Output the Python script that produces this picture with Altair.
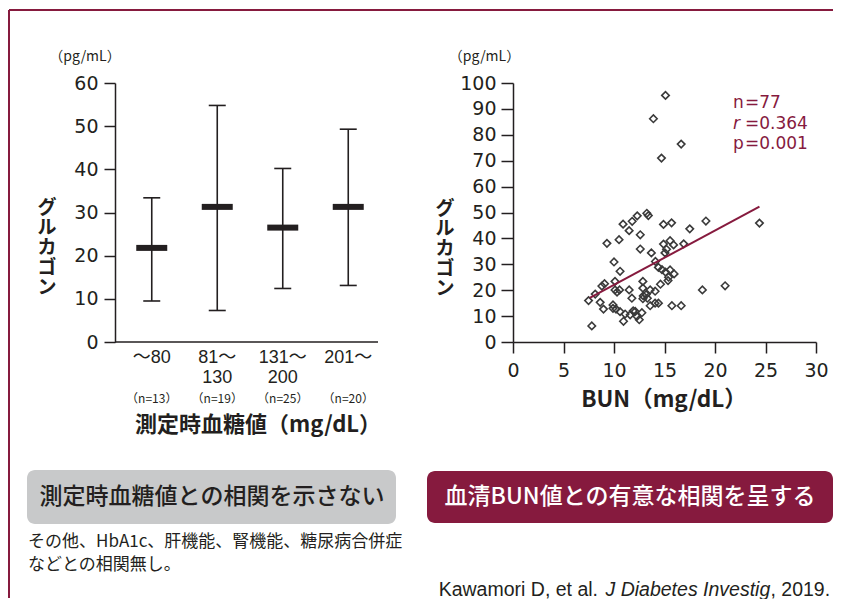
import altair as alt
import pandas as pd

# ---------------- data ----------------
groups = ["〜80", "81〜|130", "131〜|200", "201〜"]
group_n = ["（n=13）", "（n=19）", "（n=25）", "（n=20）"]
glucagon_mean = [21.8, 31.3, 26.5, 31.3]
glucagon_low = [9.5, 7.3, 12.4, 13.1]
glucagon_high = [33.4, 54.8, 40.2, 49.3]
left_y_ticks = [0, 10, 20, 30, 40, 50, 60]

bun = [15.1, 13.9, 16.65, 14.7,
       24.4, 19.1, 17.5, 21.0, 18.75, 16.65, 15.73,
       15.7, 14.9, 13.25, 13.4, 12.3, 11.8, 10.9, 11.5, 12.6,
       9.3, 10.5, 12.6, 13.7, 14.9, 15.55, 15.9, 16.9, 15.2, 15.05,
       10.0, 14.1, 14.4, 10.6, 14.75, 15.55, 15.1, 15.95,
       15.35, 14.6, 12.86, 10.1, 9.06, 8.8, 10.1, 10.55, 11.5, 12.86, 13.58,
       13.18, 13.3, 12.86, 11.77, 8.14, 7.48, 10.3, 14.07, 14.4, 8.63,
       8.96, 9.9, 10.2, 10.6, 11.1, 10.94, 11.6, 12.1, 12.27, 12.5, 12.76, 13.58, 7.8,
       15.4, 12.9, 14.07, 11.9, 9.9]
glucagon = [95.2, 86.2, 76.4, 71.0,
            45.9, 46.7, 43.7, 21.7, 20.1, 14.0, 14.0,
            46.0, 45.4, 49.7, 48.8, 48.7, 46.6, 45.5, 43.0, 41.4,
            38.1, 39.5, 35.9, 34.4, 37.8, 39.1, 37.5, 37.9, 35.8, 34.4,
            30.9, 31.1, 28.8, 27.3, 27.9, 27.8, 27.0, 26.3,
            23.7, 22.3, 23.4, 23.4, 22.5, 21.6, 20.1, 20.1, 20.1, 20.8, 20.1,
            18.3, 16.9, 16.7, 16.9, 18.5, 16.0, 19.3, 15.0, 15.0, 15.3,
            12.7, 14.3, 12.7, 11.7, 10.8, 8.0, 10.5, 11.8, 9.9, 8.6, 11.3, 14.0, 6.2,
            25.0, 17.8, 19.6, 12.0, 13.0]
fit_x = [7.6, 24.4]
fit_y = [17.0, 52.3]
right_x_ticks = [0, 5, 10, 15, 20, 25, 30]
right_y_ticks = [0, 10, 20, 30, 40, 50, 60, 70, 80, 90, 100]

stats_keys = ["n", "r", "p"]
stats_vals = ["=77", "=0.364", "=0.001"]

# ---------------- style ----------------
INK = "#231f20"
MAROON = "#861a3e"
GRAY_BOX = "#c8c9ca"
NUM = "DejaVu Sans"
JP = "Noto Sans CJK JP"
LAT = "Liberation Sans, Noto Sans CJK JP"

W1, W2, H = 262, 303, 259
OX1, OY = 119, 83      # left plot origin on the page
OX2 = 513              # right plot origin on the page
RIGHT_EDGE = 833       # keep the drawing inside the browser window
BOTTOM_EDGE = 598

one = pd.DataFrame({"k": [0]})


def txt(x, y, text, size, font=JP, color=INK, align="center", weight="normal",
        style="normal", baseline="middle", **kw):
    return alt.Chart(one).mark_text(text=text, font=font, fontSize=size, color=color,
                                    align=align, fontWeight=weight, fontStyle=style,
                                    baseline=baseline, **kw).encode(
        x=alt.value(x), y=alt.value(y))


# ---------------- left panel ----------------
left_df = pd.DataFrame({"group": groups, "n": group_n, "mean": glucagon_mean,
                        "low": glucagon_low, "high": glucagon_high})

xcat = alt.X("group:N", sort=groups,
             scale=alt.Scale(domain=groups, paddingInner=0, paddingOuter=0),
             axis=alt.Axis(title=None, labelExpr="split(datum.label, '|')", domain=False,
                           ticks=False, labelAngle=0, labelFont=LAT, labelFontSize=18,
                           labelLineHeight=20, labelPadding=6, labelColor=INK,
                           labelOverlap=False))
yaxis_l = alt.Axis(values=left_y_ticks, title=None, offset=4, tickSize=11, labelFont=NUM,
                   labelFontSize=19, labelPadding=6, labelColor=INK, grid=False,
                   domainColor=INK, tickColor=INK, domainWidth=1.5, tickWidth=1.5,
                   labelOverlap=False)
yscale_l = alt.Scale(domain=[0, 60], nice=False)

base_l = alt.Chart(left_df)
bars = base_l.mark_rule(color=INK, strokeWidth=1.6).encode(
    x=xcat, y=alt.Y("low:Q", scale=yscale_l, axis=yaxis_l), y2="high:Q")
cap_lo = base_l.mark_tick(color=INK, thickness=1.6, size=17, opacity=1).encode(
    x=xcat, y=alt.Y("low:Q", scale=yscale_l, axis=yaxis_l))
cap_hi = base_l.mark_tick(color=INK, thickness=1.6, size=17, opacity=1).encode(
    x=xcat, y=alt.Y("high:Q", scale=yscale_l, axis=yaxis_l))
means = base_l.mark_tick(color=INK, thickness=6, size=31, opacity=1).encode(
    x=xcat, y=alt.Y("mean:Q", scale=yscale_l, axis=yaxis_l))
nlab = base_l.mark_text(font=JP, fontSize=12, color=INK, baseline="middle").encode(
    x=xcat, y=alt.value(399 - OY), text="n:N")

xline_l = alt.Chart(one).mark_rule(color=INK, strokeWidth=1.5).encode(
    x=alt.value(115 - OX1), x2=alt.value(378 - OX1), y=alt.value(H))

frame_v = alt.Chart(one).mark_rule(color=MAROON, strokeWidth=2).encode(
    x=alt.value(9 - OX1), y=alt.value(10 - OY), y2=alt.value(BOTTOM_EDGE - OY))
frame_h = alt.Chart(one).mark_rule(color=MAROON, strokeWidth=2).encode(
    x=alt.value(9 - OX1), x2=alt.value(RIGHT_EDGE - OX1), y=alt.value(10 - OY))

gray_box = alt.Chart(one).mark_rect(color=GRAY_BOX, cornerRadius=8).encode(
    x=alt.value(27 - OX1), x2=alt.value(396 - OX1), y=alt.value(470 - OY), y2=alt.value(524 - OY))

left = alt.layer(
    frame_v, frame_h, gray_box,
    bars, cap_lo, cap_hi, means, nlab, xline_l,
    txt(85 - OX1, 57 - OY, "（pg/mL）", 14),
    txt(47 - OX1, 207.5 - OY, ["グ", "ル", "カ", "ゴ", "ン"], 19, weight="bold", lineHeight=20),
    txt(258 - OX1, 425 - OY, "測定時血糖値（mg/dL）", 22, weight="bold"),
    txt(212 - OX1, 497 - OY, "測定時血糖値との相関を示さない", 23, weight=500),
    txt(28 - OX1, 541.7 - OY, "その他、HbA1c、肝機能、腎機能、糖尿病合併症", 17, align="left"),
    txt(28 - OX1, 565 - OY, "などとの相関無し。", 17, align="left"),
).properties(width=W1, height=H)

# ---------------- right panel ----------------
sc_df = pd.DataFrame({"bun": bun, "glu": glucagon})
fit_df = pd.DataFrame({"bun": fit_x, "glu": fit_y})

xscale_r = alt.Scale(domain=[0, 30], nice=False)
yscale_r = alt.Scale(domain=[0, 100], nice=False)
xaxis_r = alt.Axis(values=right_x_ticks, title=None, tickSize=11, labelFont=NUM,
                   labelFontSize=19, labelPadding=8, labelColor=INK, grid=False,
                   domainColor=INK, tickColor=INK, domainWidth=1.5, tickWidth=1.5,
                   labelFlush=False, labelOverlap=False)
yaxis_r = alt.Axis(values=right_y_ticks, title=None, tickSize=12, labelFont=NUM,
                   labelFontSize=19, labelPadding=5, labelColor=INK, grid=False,
                   domainColor=INK, tickColor=INK, domainWidth=1.5, tickWidth=1.5,
                   labelFlush=False, labelOverlap=False)

pts = alt.Chart(sc_df).mark_point(shape="diamond", filled=False, size=56,
                                  stroke="#3a3a3a", strokeWidth=1.6, opacity=1).encode(
    x=alt.X("bun:Q", scale=xscale_r, axis=xaxis_r),
    y=alt.Y("glu:Q", scale=yscale_r, axis=yaxis_r))
fit = alt.Chart(fit_df).mark_line(color=MAROON, strokeWidth=2).encode(
    x=alt.X("bun:Q", scale=xscale_r, axis=xaxis_r),
    y=alt.Y("glu:Q", scale=yscale_r, axis=yaxis_r))

maroon_box = alt.Chart(one).mark_rect(color=MAROON, cornerRadius=8).encode(
    x=alt.value(427 - OX2), x2=alt.value(RIGHT_EDGE - OX2), y=alt.value(471 - OY), y2=alt.value(523 - OY))

stat_layers = []
for i, (k, v) in enumerate(zip(stats_keys, stats_vals)):
    yy = 103.3 + 20.5 * i - OY
    stat_layers.append(txt(733 - OX2, yy, k, 17, font=NUM, color=MAROON, align="left",
                           style="italic" if k == "r" else "normal"))
    stat_layers.append(txt(745 - OX2, yy, v, 17, font=NUM, color=MAROON, align="left"))

CIT_Y = 590
right = alt.layer(
    maroon_box, pts, fit, *stat_layers,
    txt(484.5 - OX2, 57 - OY, "（pg/mL）", 14),
    txt(445 - OX2, 208.5 - OY, ["グ", "ル", "カ", "ゴ", "ン"], 19, weight="bold", lineHeight=20),
    txt(664 - OX2, 400 - OY, "BUN（mg/dL）", 22.5, weight="bold"),
    txt(630 - OX2, 497 - OY, "血清BUN値との有意な相関を呈する", 23, color="white", weight=500),
    txt(598 - OX2, CIT_Y - OY, "Kawamori D, et al.", 19.5, font="Liberation Sans", align="right"),
    txt(605.5 - OX2, CIT_Y - OY, "J Diabetes Investig", 19.5, font="Liberation Sans",
        align="left", style="italic"),
    txt(770.5 - OX2, CIT_Y - OY, ", 2019.", 19.5, font="Liberation Sans", align="left"),
).properties(width=W2, height=H)

chart = alt.hconcat(left, right, spacing=OX2 - OX1 - W1, bounds="flush",
                    padding={"left": 0, "top": 1, "right": 0, "bottom": 0},
                    background="white"
                    ).configure_view(stroke=None)

chart.save("out.html", embed_options={"renderer": "svg", "actions": False})
